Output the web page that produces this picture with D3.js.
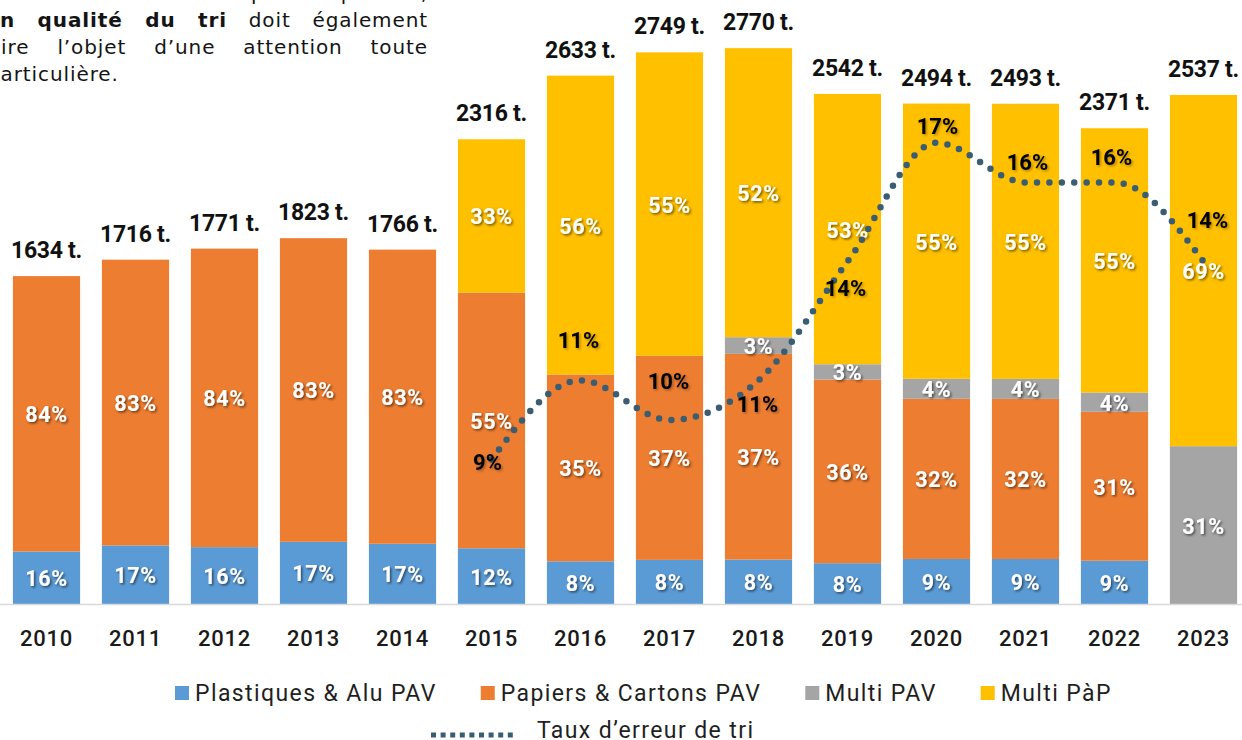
<!DOCTYPE html>
<html>

<head>
    <meta charset="utf-8">
    <script src="https://cdnjs.cloudflare.com/ajax/libs/d3/7.8.5/d3.min.js"></script>
    <style>
        body {
            margin: 0;
            background: #ffffff;
        }

        svg {
            display: block;
        }

        .para {
            font-family: "DejaVu Sans", Verdana, sans-serif;
            font-size: 20px;
            fill: #141414;
            letter-spacing: 0.9px;
        }

        .total {
            font-family: Roboto, sans-serif;
            font-weight: 700;
            font-size: 23px;
            fill: #111;
            letter-spacing: -0.3px;
        }

        .pct {
            font-family: Roboto, sans-serif;
            font-weight: 700;
            font-size: 21.5px;
            fill: #fff;
            letter-spacing: 0.6px;
        }

        .err {
            font-family: Roboto, sans-serif;
            font-weight: 700;
            font-size: 22px;
            fill: #000;
        }

        .year {
            font-family: Roboto, sans-serif;
            font-weight: 500;
            font-size: 22px;
            fill: #1a1a1a;
            letter-spacing: 0.8px;
        }

        .legend text {
            font-family: Roboto, sans-serif;
            font-size: 23px;
            fill: #1f1f1f;
            letter-spacing: 1.4px;
        }
    </style>
</head>

<body>
    <div id="chart"></div>

    <script>
        // tonnage collecte selective par annee
        var years = ["2010", "2011", "2012", "2013", "2014", "2015", "2016", "2017", "2018", "2019", "2020", "2021", "2022", "2023"];
        var totals = [1634, 1716, 1771, 1823, 1766, 2316, 2633, 2749, 2770, 2542, 2494, 2493, 2371, 2537];

        // parts en % de chaque flux
        var plastiques = [16, 17, 16, 17, 17, 12, 8, 8, 8, 8, 9, 9, 9, 0];
        var papiers = [84, 83, 84, 83, 83, 55, 35, 37, 37, 36, 32, 32, 31, 0];
        var multiPav = [0, 0, 0, 0, 0, 0, 0, 0, 3, 3, 4, 4, 4, 31];
        var multiPap = [0, 0, 0, 0, 0, 33, 56, 55, 52, 53, 55, 55, 55, 69];

        // taux d'erreur de tri (%)
        var errYears = ["2015", "2016", "2017", "2018", "2019", "2020", "2021", "2022", "2023"];
        var errRate = [9, 11, 10, 11, 14, 17, 16, 16, 14];

        var seriesNames = ["Plastiques & Alu PAV", "Papiers & Cartons PAV", "Multi PAV", "Multi PàP"];
        var seriesColors = ["#5b9bd5", "#ed7d31", "#a5a5a5", "#ffc000"];
        var lineColor = "#3b5d72";

        // placement manuel des etiquettes du taux (dx, dy)
        var errLabelOffset = [[-4, 3], [-2, -40], [-1, -39], [-1, 24], [-2, 27], [1, -16], [2, -20], [-3, -25], [4, -41]];

        var width = 1242,
            height = 740;

        var svg = d3.select("#chart")
            .append("svg")
            .attr("width", width)
            .attr("height", height);

        var defs = svg.append("defs");
        var sh = defs.append("filter").attr("id", "shadow")
            .attr("x", "-20%").attr("y", "-20%").attr("width", "140%").attr("height", "150%");
        sh.append("feDropShadow")
            .attr("dx", 1.5).attr("dy", 1.5).attr("stdDeviation", 1)
            .attr("flood-color", "#000").attr("flood-opacity", 0.55);
        var sh2 = defs.append("filter").attr("id", "shadowLight")
            .attr("x", "-20%").attr("y", "-20%").attr("width", "140%").attr("height", "150%");
        sh2.append("feDropShadow")
            .attr("dx", 1.5).attr("dy", 1.5).attr("stdDeviation", 1)
            .attr("flood-color", "#000").attr("flood-opacity", 0.3);

        // texte du rapport coupe en haut a gauche
        var para = svg.append("g").attr("class", "para");

        para.append("text")
            .attr("x", 428).attr("y", 0)
            .attr("text-anchor", "end")
            .text("La quantité collectée est un point important,");

        var l1 = para.append("text").attr("x", 0).attr("y", 27);
        l1.append("tspan").attr("font-weight", "bold").text("n qualité du tri");
        l1.append("tspan").text(" doit également");

        var l2 = para.append("text").attr("x", -20).attr("y", 54)
            .text("faire l’objet d’une attention toute");

        para.append("text").attr("x", -13).attr("y", 81)
            .text("particulière.");

        justify(l1, 0, 428, 5);
        justify(l2, -20, 428, 4);

        function justify(t, x0, x1, gaps) {
            var w = t.node().getComputedTextLength();
            var extra = Math.max(0, (x1 - x0 - w) / gaps);
            t.attr("word-spacing", extra);
        }

        // echelles
        var x = d3.scaleBand()
            .domain(years)
            .range([2, 1248])
            .paddingInner(0.245)
            .paddingOuter(0.1225);

        var y = d3.scaleLinear()
            .domain([0, 3000])
            .range([604, 2]);

        var yErr = d3.scaleLinear()
            .domain([0, 20])
            .range([816, 24]);

        // donnees empilees : part * total
        var rows = years.map(function(yr, i) {
            var sum = plastiques[i] + papiers[i] + multiPav[i] + multiPap[i];
            return {
                year: yr,
                total: totals[i],
                pct: [plastiques[i], papiers[i], multiPav[i], multiPap[i]],
                s0: totals[i] * plastiques[i] / sum,
                s1: totals[i] * papiers[i] / sum,
                s2: totals[i] * multiPav[i] / sum,
                s3: totals[i] * multiPap[i] / sum
            };
        });

        var stack = d3.stack().keys(["s0", "s1", "s2", "s3"]);
        var stacked = stack(rows);

        var layers = svg.append("g").attr("class", "bars")
            .selectAll("g")
            .data(stacked)
            .enter().append("g")
            .attr("fill", function(d, i) {
                return seriesColors[i];
            });

        layers.selectAll("rect")
            .data(function(d) {
                return d.filter(function(p) {
                    return p[1] - p[0] > 0;
                });
            })
            .enter().append("rect")
            .attr("x", function(d) {
                return x(d.data.year);
            })
            .attr("width", x.bandwidth())
            .attr("y", function(d) {
                return y(d[1]);
            })
            .attr("height", function(d) {
                return y(d[0]) - y(d[1]);
            });

        // axe horizontal
        svg.append("line")
            .attr("x1", 0).attr("x2", width)
            .attr("y1", y(0) + 0.5).attr("y2", y(0) + 0.5)
            .attr("stroke", "#d9d9d9")
            .attr("stroke-width", 1.5);

        // etiquettes % dans les barres
        stacked.forEach(function(layer, k) {
            svg.append("g")
                .selectAll("text")
                .data(layer.filter(function(p) {
                    return p[1] - p[0] > 0;
                }))
                .enter().append("text")
                .attr("class", "pct")
                .attr("filter", "url(#shadow)")
                .attr("text-anchor", "middle")
                .attr("dominant-baseline", "central")
                .attr("x", function(d) {
                    return x(d.data.year) + x.bandwidth() / 2;
                })
                .attr("y", function(d) {
                    return (y(d[0]) + y(d[1])) / 2 + 1;
                })
                .text(function(d) {
                    return d.data.pct[k] + "%";
                });
        });

        // courbe du taux d'erreur
        var errData = errYears.map(function(yr, i) {
            return { year: yr, v: errRate[i] };
        });

        var line = d3.line()
            .x(function(d) {
                return x(d.year) + x.bandwidth() / 2;
            })
            .y(function(d) {
                return yErr(d.v);
            })
            .curve(d3.curveMonotoneX);

        svg.append("path")
            .datum(errData)
            .attr("d", line)
            .attr("fill", "none")
            .attr("stroke", lineColor)
            .attr("stroke-width", 6.5)
            .attr("stroke-linecap", "round")
            .attr("stroke-dasharray", "0 12.4");

        svg.append("g")
            .selectAll("text")
            .data(errData)
            .enter().append("text")
            .attr("class", "err")
            .attr("filter", "url(#shadowLight)")
            .attr("text-anchor", "middle")
            .attr("dominant-baseline", "central")
            .attr("x", function(d, i) {
                return x(d.year) + x.bandwidth() / 2 + errLabelOffset[i][0];
            })
            .attr("y", function(d, i) {
                return yErr(d.v) + errLabelOffset[i][1];
            })
            .text(function(d) {
                return d.v + "%";
            });

        // totaux au dessus des barres
        svg.append("g")
            .selectAll("text")
            .data(rows)
            .enter().append("text")
            .attr("class", "total")
            .attr("text-anchor", "middle")
            .attr("x", function(d) {
                return x(d.year) + x.bandwidth() / 2;
            })
            .attr("y", function(d) {
                return y(d.total) - 18;
            })
            .text(function(d) {
                return d.total + " t.";
            });

        // annees
        svg.append("g")
            .selectAll("text")
            .data(years)
            .enter().append("text")
            .attr("class", "year")
            .attr("text-anchor", "middle")
            .attr("x", function(d) {
                return x(d) + x.bandwidth() / 2;
            })
            .attr("y", 646)
            .text(function(d) {
                return d;
            });

        // legende
        var legend = svg.append("g").attr("class", "legend");
        var items = legend.selectAll("g.item")
            .data(seriesNames)
            .enter().append("g")
            .attr("class", "item");

        items.append("rect")
            .attr("width", 14).attr("height", 14)
            .attr("y", 686)
            .attr("fill", function(d, i) {
                return seriesColors[i];
            });

        items.append("text")
            .attr("x", 20)
            .attr("y", 701)
            .text(function(d) {
                return d;
            });

        var lx = 175;
        items.each(function() {
            var g = d3.select(this);
            g.attr("transform", "translate(" + lx + ",0)");
            lx += 20 + g.select("text").node().getComputedTextLength() + 44;
        });

        legend.append("line")
            .attr("x1", 431).attr("x2", 517)
            .attr("y1", 735).attr("y2", 735)
            .attr("stroke", lineColor)
            .attr("stroke-width", 5)
            .attr("stroke-dasharray", "5 4.6");

        legend.append("text")
            .attr("x", 537)
            .attr("y", 738)
            .text("Taux d’erreur de tri");
    </script>

</body>

</html>
